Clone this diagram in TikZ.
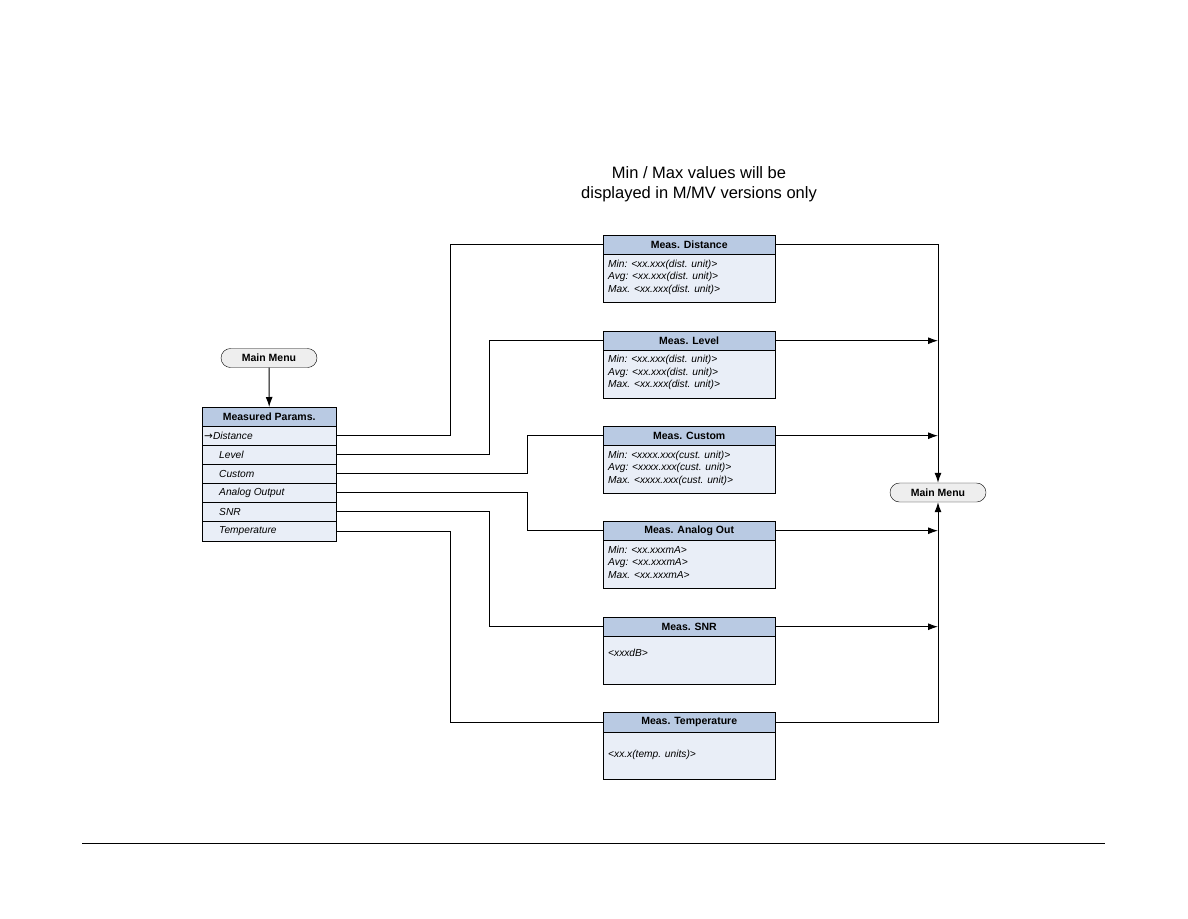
\documentclass[tikz,border=0pt]{standalone}
\usepackage{fontspec}
\setmainfont{Liberation Sans}
\newfontfamily\symfont{DejaVu Sans}
\usetikzlibrary{arrows.meta}
\definecolor{hdr}{HTML}{B9CAE3}
\definecolor{bdy}{HTML}{E9EEF7}
\definecolor{mmfill}{HTML}{EEEEEE}
\tikzset{
  hdrbox/.style={draw, fill=hdr, minimum width=172pt, minimum height=19pt, inner sep=0pt, anchor=north west, font=\fontsize{10.5}{12}\selectfont\bfseries},
  bdybox/.style={draw, fill=bdy, minimum width=172pt, minimum height=48pt, inner sep=0pt, anchor=north west},
  bdytext/.style={anchor=north west, inner sep=0pt, align=left, font=\fontsize{10.2}{12.7}\selectfont\itshape},
  phdr/.style={draw, fill=hdr, minimum width=134pt, minimum height=19pt, inner sep=0pt, anchor=north west, font=\fontsize{10.5}{12}\selectfont\bfseries},
  prow/.style={draw, fill=bdy, minimum width=134pt, minimum height=19pt, inner sep=0pt, anchor=north west},
  rowtext/.style={anchor=west, inner sep=0pt, font=\fontsize{10.2}{12}\selectfont\itshape},
  mmbox/.style={draw, fill=mmfill, rounded corners=9.5pt, minimum width=96pt, minimum height=19pt, inner sep=0pt, font=\fontsize{10.5}{12}\selectfont\bfseries},
  conn/.style={line width=1pt},
  arr/.style={line width=1pt, -{Latex[length=10pt,width=7pt]}},
}
\begin{document}
\begin{tikzpicture}[x=1pt,y=-1pt]
\useasboundingbox (0,0) rectangle (1188,918);
% title
\node[align=center, font=\fontsize{16.5}{19.5}\selectfont] (title) at (699,184) {Min / Max values will be\\displayed in M/MV versions only};
% bottom rule
\coordinate (ruleL) at (82,843);
\coordinate (ruleR) at (1105,843);
\draw[line width=1pt] (ruleL) -- (ruleR);

% left main menu
\node[mmbox] (mm1) at (269,358) {Main Menu};

% measured params
\node[phdr] (ph) at (202,407) {Measured Params.};
\node[prow] (r1) at (202,426) {};
\node[prow] (r2) at (202,445) {};
\node[prow] (r3) at (202,464) {};
\node[prow] (r4) at (202,483) {};
\node[prow] (r5) at (202,502) {};
\node[prow, minimum height=20pt] (r6) at (202,521) {};
\node[rowtext] (t1) at (204,435.5) {{\symfont\upshape\fontsize{10.5}{12}\selectfont →}Distance};
\node[rowtext] (t2) at (219,454.5) {Level};
\node[rowtext] (t3) at (219,473.5) {Custom};
\node[rowtext] (t4) at (219,492.5) {Analog Output};
\node[rowtext] (t5) at (219,511.5) {SNR};
\node[rowtext] (t6) at (219,531) {Temperature};

\draw[arr] (mm1.south) -- (ph.north);

% right boxes
\node[hdrbox] (hD) at (603,235) {Meas. Distance};
\node[bdybox] (bD) at (603,254) {};
\node[bdytext] (xD) at (608,259.5) {Min: <xx.xxx(dist. unit)>\\Avg: <xx.xxx(dist. unit)>\\Max. <xx.xxx(dist. unit)>};

\node[hdrbox] (hL) at (603,331) {Meas. Level};
\node[bdybox] (bL) at (603,350) {};
\node[bdytext] (xL) at (608,355) {Min: <xx.xxx(dist. unit)>\\Avg: <xx.xxx(dist. unit)>\\Max. <xx.xxx(dist. unit)>};

\node[hdrbox] (hC) at (603,426) {Meas. Custom};
\node[bdybox] (bC) at (603,445) {};
\node[bdytext] (xC) at (608,450.5) {Min: <xxxx.xxx(cust. unit)>\\Avg: <xxxx.xxx(cust. unit)>\\Max. <xxxx.xxx(cust. unit)>};

\node[hdrbox] (hA) at (603,521) {Meas. Analog Out};
\node[bdybox] (bA) at (603,540) {};
\node[bdytext] (xA) at (608,545.5) {Min: <xx.xxxmA>\\Avg: <xx.xxxmA>\\Max. <xx.xxxmA>};

\node[hdrbox] (hS) at (603,617) {Meas. SNR};
\node[bdybox] (bS) at (603,636) {};
\node[bdytext] (xS) at (608,648.5) {<xxxdB>};

\node[hdrbox, minimum height=20pt] (hT) at (603,712) {Meas. Temperature};
\node[bdybox, minimum height=47pt] (bT) at (603,732) {};
\node[bdytext] (xT) at (608,749.5) {<xx.x(temp. units)>};

% right main menu
\node[mmbox] (mm2) at (938,492.5) {Main Menu};

% connectors left
\draw[conn] (r1.east) -- ++(114,0) |- (hD.west);
\draw[conn] (r2.east) -- ++(153,0) |- (hL.west);
\draw[conn] (r3.east) -- ++(191,0) |- (hC.west);
\draw[conn] (r4.east) -- ++(191,0) |- (hA.west);
\draw[conn] (r5.east) -- ++(153,0) |- (hS.west);
\draw[conn] (r6.east) -- ++(114,0) |- (hT.west);

% connectors right
\draw[arr] (hD.east) -| (mm2.north);
\draw[arr] (hL.east) -- (hL.east -| mm2.center);
\draw[arr] (hC.east) -- (hC.east -| mm2.center);
\draw[arr] (hA.east) -- (hA.east -| mm2.center);
\draw[arr] (hS.east) -- (hS.east -| mm2.center);
\draw[arr] (hT.east) -| (mm2.south);
\end{tikzpicture}
\end{document}
